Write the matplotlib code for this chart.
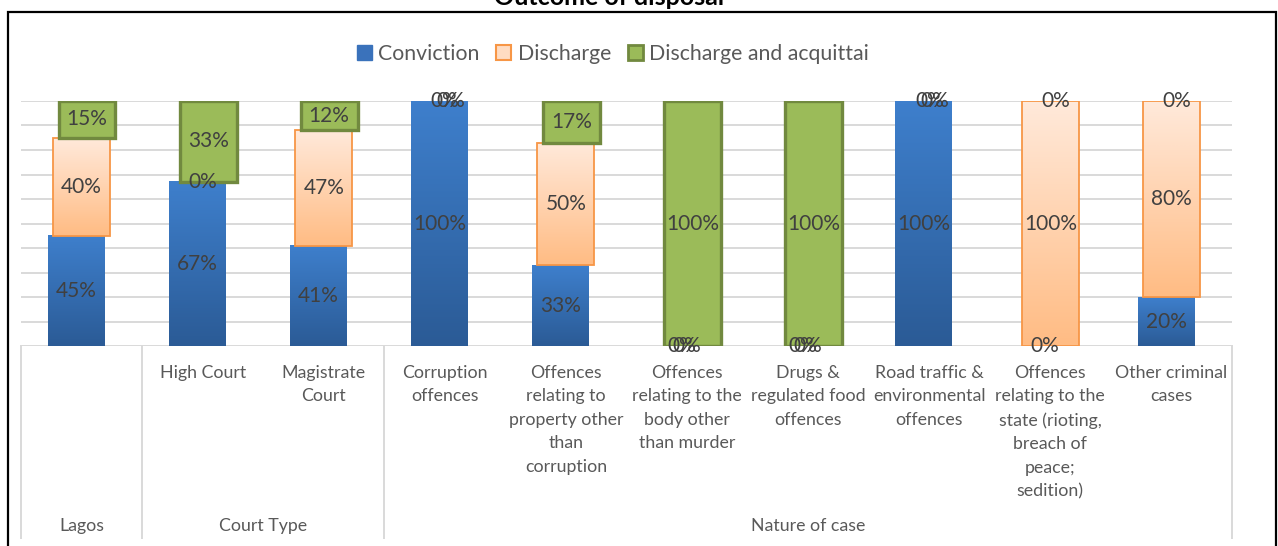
import numpy as np
import matplotlib
matplotlib.use('Agg')
import matplotlib.pyplot as plt
from matplotlib.colors import LinearSegmentedColormap
from matplotlib.patches import Patch, Rectangle
from matplotlib.transforms import blended_transform_factory

plt.rcParams['font.family'] = ['Lato', 'DejaVu Sans']

# datos
categorias = ['', 'High Court', 'Magistrate\nCourt', 'Corruption\noffences',
              'Offences\nrelating to\nproperty other\nthan\ncorruption',
              'Offences\nrelating to the\nbody other\nthan murder',
              'Drugs &\nregulated food\noffences',
              'Road traffic &\nenvironmental\noffences',
              'Offences\nrelating to the\nstate (rioting,\nbreach of\npeace;\nsedition)',
              'Other criminal\ncases']
grupos = ['Lagos', 'Court Type', 'Nature of case']
grupo_inicio = [0, 1, 3]
grupo_fin = [0, 2, 9]
series = ['Conviction', 'Discharge', 'Discharge and acquittai']
conviction = [45, 67, 41, 100, 33, 0, 0, 100, 0, 20]
discharge = [40, 0, 47, 0, 50, 0, 0, 0, 100, 80]
acquittal = [15, 33, 12, 0, 17, 100, 100, 0, 0, 0]

W, H = 1278, 546
fig = plt.figure(figsize=(W/100, H/100), dpi=100)
ax = fig.add_axes([21/W, 200/H, 1211/W, 245/H])

x = np.arange(len(categorias))
ancho = 0.47
desp = [-0.045, 0.0, 0.045]

def degradado(barras, c_arriba, c_abajo, z):
    cmap = LinearSegmentedColormap.from_list('g', [c_abajo, c_arriba])
    arr = np.linspace(0, 1, 64).reshape(-1, 1)
    for b in barras:
        if b.get_height() <= 0:
            continue
        x0, y0 = b.get_x(), b.get_y()
        ax.imshow(arr, cmap=cmap, extent=(x0, x0 + b.get_width(), y0, y0 + b.get_height()),
                  origin='lower', aspect='auto', zorder=z, interpolation='bilinear')

base2 = np.array(conviction)
base3 = base2 + np.array(discharge)

b1 = ax.bar(x + desp[0], conviction, ancho, color='none', edgecolor='none', zorder=2)
degradado(b1, '#3E7FCC', '#2B5B96', 1.9)

b2 = ax.bar(x + desp[1], discharge, ancho, bottom=base2, color='none',
            edgecolor='#F79646', linewidth=1.3, zorder=3.1)
degradado(b2, '#FFE9DA', '#FFBC84', 3)

b3 = ax.bar(x + desp[2], acquittal, ancho, bottom=base3, color='#9BBB59',
            edgecolor='#71893F', linewidth=2.4, zorder=4)

for grupo in (b2, b3):
    for b in grupo:
        if b.get_height() == 0:
            b.set_linewidth(0)

for grupo, vals in ((b1, conviction), (b2, discharge), (b3, acquittal)):
    t = ax.bar_label(grupo, labels=[f'{v}%' for v in vals], label_type='center',
                     color='#404040', fontsize=15)
    for tt in t:
        tt.set_zorder(6)

ax.set_xlim(-0.5, len(categorias) - 0.5)
ax.set_ylim(0, 100)
ax.set_yticks(range(0, 101, 10))
ax.yaxis.grid(True, color='#D9D9D9', linewidth=1.4)
ax.set_axisbelow(True)
ax.tick_params(left=False, bottom=False, labelleft=False, labelbottom=False)
for s in ax.spines.values():
    s.set_visible(False)

# eje de categorias en varios niveles
tr = blended_transform_factory(ax.transData, fig.transFigure)
for i, c in enumerate(categorias):
    ax.text(i, 1 - 365/H, c, transform=tr, ha='center', va='top', fontsize=12.8,
            color='#595959', linespacing=1.57, clip_on=False)
for g, a, b in zip(grupos, grupo_inicio, grupo_fin):
    ax.text((a + b) / 2, 1 - 526/H, g, transform=tr, ha='center', va='center',
            fontsize=12.8, color='#595959', clip_on=False)
for xs in [-0.5, 0.5, 2.5, len(categorias) - 0.5]:
    ax.plot([xs, xs], [1 - 346/H, 1 - 538/H], transform=tr, color='#D9D9D9',
            linewidth=1.4, clip_on=False)

# leyenda
manejadores = [Patch(facecolor='#3A72BB', edgecolor='#3A72BB'),
               Patch(facecolor='#FFDCC2', edgecolor='#F79646', linewidth=1.5),
               Patch(facecolor='#9BBB59', edgecolor='#71893F', linewidth=2)]
fig.legend(manejadores, series, loc='center', bbox_to_anchor=(613/W, 1 - 54/H),
           ncol=3, frameon=False, fontsize=15.3, handlelength=0.7, handleheight=0.7,
           handletextpad=0.3, columnspacing=0.8, labelcolor='#595959')

# titulo (cortado arriba)
fig.text(609/W, 1 - 5/H, 'Outcome of disposal', ha='center', va='baseline',
         fontsize=18, fontweight='bold', color='black')

# marco
fig.patches.append(Rectangle((8/W, -0.05), 1268/W, 1.05 - 12/H, transform=fig.transFigure,
                             fill=False, edgecolor='black', linewidth=1.6))

fig.savefig('out.png', dpi=100)
